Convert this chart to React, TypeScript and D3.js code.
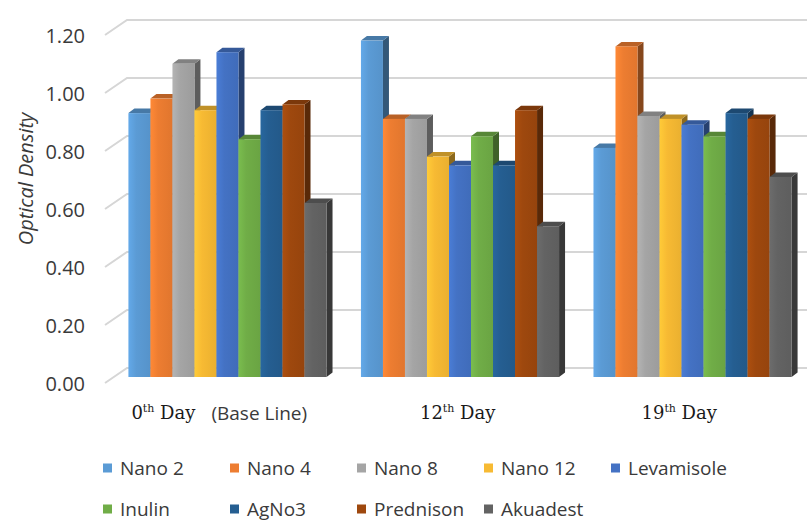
import React from 'react';
import * as d3 from 'd3';

const categories = ['0', '12', '19'];
const seriesNames = ['Nano 2', 'Nano 4', 'Nano 8', 'Nano 12', 'Levamisole', 'Inulin', 'AgNo3', 'Prednison', 'Akuadest'];
const nano2 = [0.91, 1.16, 0.79];
const nano4 = [0.96, 0.89, 1.14];
const nano8 = [1.08, 0.89, 0.9];
const nano12 = [0.92, 0.76, 0.89];
const levamisole = [1.12, 0.73, 0.87];
const inulin = [0.82, 0.83, 0.83];
const agno3 = [0.92, 0.73, 0.91];
const prednison = [0.94, 0.92, 0.89];
const akuadest = [0.6, 0.52, 0.69];
const seriesValues = [nano2, nano4, nano8, nano12, levamisole, inulin, agno3, prednison, akuadest];
const yTicks = [0, 0.2, 0.4, 0.6, 0.8, 1.0, 1.2];
const colors = ['#5B9BD5', '#ED7D31', '#A5A5A5', '#F7BA33', '#4472C4', '#70AD47', '#255E91', '#9E480E', '#636363'];
const labelOffsets = [3, 59, 48];

const W = 807;
const H = 522;
const GRID_DX = 22;
const BAR_DX = 6;
const BAR_DY = 4.5;

export default function App() {
  const yFront = d3.scaleLinear().domain([0, 1.2]).range([383, 35]);
  const yBack = d3.scaleLinear().domain([0, 1.2]).range([368, 20]);
  const yBar = d3.scaleLinear().domain([0, 1.2]).range([377, 29]);
  const x0 = d3.scaleBand<string>().domain(categories).range([94, 826]).padding(0.148);
  const x1 = d3.scaleBand<string>().domain(seriesNames).range([0, x0.bandwidth()]).padding(0);
  const gridX0 = 105;

  const bars: React.ReactNode[] = [];
  categories.forEach((cat, ci) => {
    seriesNames.forEach((s, si) => {
      const v = seriesValues[si][ci];
      const xl = (x0(cat) as number) + (x1(s) as number);
      const w = x1.bandwidth();
      const xr = xl + w;
      const yt = yBar(v);
      const yb = yBar(0);
      const base = d3.color(colors[si]) as d3.RGBColor;
      const top = base.darker(0.7).formatHex();
      const side = base.darker(1.6).formatHex();
      bars.push(
        <g key={`${ci}-${si}`}>
          <polygon
            points={`${xr},${yt} ${xr + BAR_DX},${yt - BAR_DY} ${xr + BAR_DX},${yb - BAR_DY} ${xr},${yb}`}
            fill={side}
          />
          <polygon
            points={`${xl},${yt} ${xl + BAR_DX},${yt - BAR_DY} ${xr + BAR_DX},${yt - BAR_DY} ${xr},${yt}`}
            fill={top}
          />
          <rect x={xl} y={yt} width={w} height={yb - yt} fill={`url(#grad${si})`} />
        </g>
      );
    });
  });

  return (
    <svg width={W} height={H} style={{ position: 'absolute', left: 0, top: 0, background: '#fff' }}>
      <defs>
        {colors.map((c, i) => {
          const b = d3.color(c) as d3.RGBColor;
          return (
            <linearGradient key={i} id={`grad${i}`} x1="0" x2="1" y1="0" y2="0">
              <stop offset="0%" stopColor={b.brighter(0.25).formatHex()} />
              <stop offset="35%" stopColor={c} />
              <stop offset="100%" stopColor={b.darker(0.15).formatHex()} />
            </linearGradient>
          );
        })}
      </defs>
      <rect x={0} y={0} width={W} height={H} fill="#fff" />
      {yTicks.map((t) => (
        <g key={t}>
          <path
            d={`M${gridX0},${yFront(t)} L${gridX0 + GRID_DX},${yBack(t)} L${W},${yBack(t)}`}
            fill="none"
            stroke="#d6d6d6"
            strokeWidth={2}
          />
          <text
            x={85}
            y={yFront(t)}
            textAnchor="end"
            dominantBaseline="central"
            fontFamily="'Open Sans', sans-serif"
            fontSize={20}
            fill="#3a3a3a"
          >
            {d3.format('.2f')(t)}
          </text>
        </g>
      ))}
      {bars}
      <text
        transform={`translate(25,179) rotate(-90)`}
        textAnchor="middle"
        dominantBaseline="central"
        fontFamily="'Open Sans', sans-serif"
        fontStyle="italic"
        fontSize={20}
        fill="#3a3a3a"
      >
        Optical Density
      </text>
      {categories.map((cat, ci) => (
        <text
          key={cat}
          x={(x0(cat) as number) + labelOffsets[ci]}
          y={419}
          fontFamily="'DejaVu Serif', serif"
          fontSize={18}
          fill="#1a1a1a"
        >
          {cat}
          <tspan fontSize={11} dy={-7}>th</tspan>
          <tspan dy={7}> Day</tspan>
        </text>
      ))}
      <text
        x={(x0(categories[0]) as number) + 83}
        y={413}
        dominantBaseline="central"
        fontFamily="'Open Sans', sans-serif"
        fontSize={19}
        fill="#3a3a3a"
      >
        (Base Line)
      </text>
      {seriesNames.map((s, i) => {
        const row = i < 5 ? 0 : 1;
        const col = i < 5 ? i : i - 5;
        const lx = 103 + col * 127;
        const ly = row === 0 ? 468 : 509;
        return (
          <g key={s}>
            <rect x={lx} y={ly - 4.5} width={9} height={9} fill={colors[i]} />
            <text
              x={lx + 17}
              y={ly}
              dominantBaseline="central"
              fontFamily="'Open Sans', sans-serif"
              fontSize={19}
              fill="#3a3a3a"
            >
              {s}
            </text>
          </g>
        );
      })}
    </svg>
  );
}
